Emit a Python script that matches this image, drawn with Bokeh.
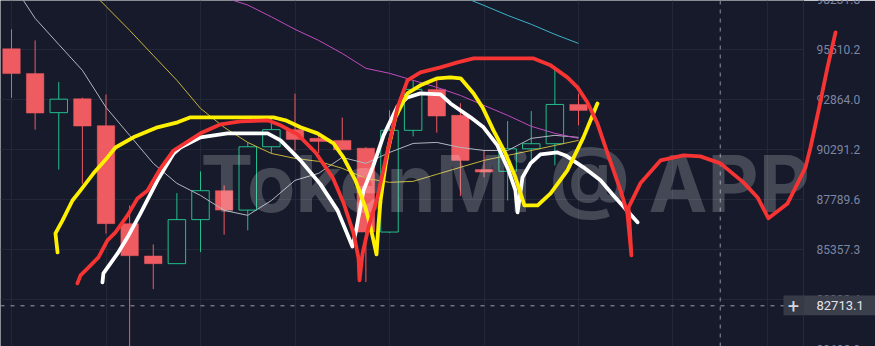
from bokeh.plotting import figure
from bokeh.models import (Range1d, FixedTicker, PrintfTickFormatter, LogAxis, Grid,
                          Span, ColumnDataSource)
from bokeh.core.properties import value
from bokeh.embed import file_html
from bokeh.resources import INLINE

# ---------------- data ----------------
idx = list(range(25))
opens = [95565, 94240, 92195, 92917, 91526, 86622, 85060, 84695, 86817, 88240, 87284, 90445, 91320,
         90873, 90770, 90373, 86213, 91284, 93409, 92056, 89291, 89206, 90342, 90600, 92622]
highs = [96615, 96016, 93796, 92970, 93145, 87512, 85615, 88120, 89206, 88505, 90667, 91886, 93182,
         91181, 91938, 90425, 92313, 93886, 94060, 92689, 90256, 91763, 92277, 94452, 93182]
lows = [92970, 91320, 89291, 88590, 86136, 79800, 83494, 84680, 85244, 86087, 86296, 90091, 90256,
        90131, 90280, 83825, 86165, 90975, 91166, 87970, 88905, 87756, 89591, 89506, 91541]
closes = [94240, 92174, 92896, 91505, 86622, 85074, 84695, 86817, 88240, 87284, 90445, 91320, 90821,
          90718, 90291, 86213, 91284, 93409, 92020, 89756, 89171, 90342, 90600, 92622, 92313]

ma_gray_x = list(range(0, 25))
ma_gray = [99201, 97214, 95799, 94415, 92468, 91027, 89606, 88605, 88005, 87269, 87026, 87755, 88755,
           89105, 89906, 89606, 90156, 90615, 90667, 90410, 90256, 90256, 90872, 91027, 90924]
ma_yellow_x = list(range(3, 25))
ma_yellow = [99201, 97867, 96561, 95209, 93886, 92416, 91439, 90667, 90106, 89856, 89706, 89356,
             88856, 88655, 88705, 89055, 89406, 89756, 90006, 90256, 90512, 90770]
ma_magenta_x = list(range(9, 25))
ma_magenta = [98361, 97943, 97296, 96615, 96016, 95314, 94521, 94256, 93886, 93515, 93092, 92571,
              92056, 91490, 91130, 90872]
ma_cyan_x = list(range(19, 25))
ma_cyan = [98445, 97921, 97377, 96887, 96343, 95853]

# hand-drawn strokes (x in bar index, y in price)
yellow_x = [1.95, 1.86, 2.16, 2.58, 2.92, 3.47, 4.06, 4.40, 5.16, 6.18, 7.03, 7.58, 8.55, 11.09, 11.60,
            12.23, 12.95, 13.63, 14.05, 14.56, 14.98, 15.20, 15.45, 15.53, 15.62, 15.83, 15.96, 16.25,
            16.76, 17.31, 18.03, 18.58, 19.01, 19.56, 19.94, 20.40, 20.91, 21.33, 21.55, 21.71, 22.27,
            22.82, 23.53, 24.21, 24.51, 24.80]
yellow_y = [85230, 86150, 86783, 87756, 88255, 89105, 89906, 90409, 90924, 91439, 91696, 91953, 91953,
            91953, 91799, 91439, 91130, 90615, 89906, 88755, 87415, 86442, 85135, 86540, 87756, 89506,
            90409, 91953, 93198, 93621, 93991, 94044, 93991, 93198, 92468, 91284, 90106, 88905, 88105,
            87512, 87512, 88105, 89256, 90924, 91799, 92674]
white_x = [3.85, 3.89, 4.49, 4.91, 5.46, 6.18, 6.86, 7.15, 8.00, 9.14, 10.84, 11.39, 11.94, 12.23,
           13.08, 13.80, 14.43, 14.56, 14.90, 15.32, 15.75, 16.34, 16.76, 17.31, 18.16, 18.58, 19.43,
           19.98, 20.57, 21.04, 21.33, 21.42, 21.63, 21.97, 22.39, 23.11, 23.45, 24.21, 24.93, 25.48, 26.50]
white_y = [83811, 84236, 85182, 85956, 87123, 88755, 90106, 90409, 90924, 91130, 91130, 90770, 90106,
           89756, 88555, 87269, 85518, 86150, 88255, 89506, 91027, 92519, 92986, 93198, 93145, 92674,
           91953, 91439, 90512, 89256, 88255, 87172, 88905, 89606, 90056, 90156, 90006, 89406, 88755,
           88005, 86685]
red_x = [2.79, 2.92, 3.22, 3.68, 4.06, 4.40, 4.91, 5.33, 5.76, 6.31, 6.86, 8.00, 8.85, 9.69, 10.84,
         11.39, 12.11, 12.87, 13.59, 14.05, 14.48, 14.69, 14.73, 14.86, 15.11, 15.49, 15.92, 16.34,
         16.76, 17.31, 18.16, 18.88, 19.56, 22.10, 22.82, 23.53, 23.96, 24.38, 24.80, 25.23, 25.78,
         26.07, 26.24, 26.12, 26.62, 27.47, 28.44, 29.16, 30.01, 30.98, 31.58, 32.04, 32.85, 33.40,
         33.61, 33.82, 34.16, 34.54, 34.88]
red_y = [83763, 84142, 84473, 84993, 85810, 86199, 87026, 87855, 88255, 89356, 90256, 91130, 91593,
         91747, 91799, 91541, 91078, 90156, 88905, 87658, 86150, 84946, 83905, 85182, 86442, 87905,
         90256, 92468, 93886, 94309, 94574, 94838, 95050, 95050, 94679, 94044, 93515, 92725, 91644,
         90106, 88255, 87123, 85088, 87415, 88605, 89756, 90006, 89956, 89606, 88655, 87905, 86880,
         87610, 88905, 89406, 90409, 92308, 94574, 96452]

tick_prices = [82992.4, 85357.3, 87789.6, 90291.2, 92864.0, 95510.2]
edge_prices = [98231.8, 80692.9]
grid_bars = [0, 4, 8, 12, 16, 20, 24, 28, 32]
cursor_bar = 30
last_price = 82713.1
watermark = "TokenMi @ APP"

# ---------------- style ----------------
BG = "#161a2a"
GRID = "#232838"
UP = "#22bf8d"
DOWN = "#ee5b61"
AXIS_TXT = "#7d86a3"
X0, X1 = -0.466, 33.524          # frame spans 0..803 px
PX = (X1 - X0) / 803.0           # bar units per pixel

def px(x):
    return X0 + x * PX

p = figure(width=875, height=346, x_range=Range1d(X0, X1), y_range=Range1d(80843, 98193),
           y_axis_type="log", x_axis_location=None, y_axis_location=None,
           output_backend="svg", toolbar_location=None,
           min_border_left=0, min_border_top=0, min_border_bottom=0, min_border_right=72)
p.background_fill_color = BG
p.border_fill_color = BG
p.outline_line_color = None
p.grid.visible = False

p.add_layout(Grid(dimension=0, ticker=FixedTicker(ticks=grid_bars), grid_line_color=GRID, grid_line_width=1))
p.add_layout(Grid(dimension=1, ticker=FixedTicker(ticks=tick_prices), grid_line_color=GRID, grid_line_width=1))

yax = LogAxis(ticker=FixedTicker(ticks=tick_prices), formatter=PrintfTickFormatter(format="%.1f"))
yax.axis_line_color = "#262b3b"
yax.major_tick_line_color = None
yax.minor_tick_line_color = None
yax.major_tick_out = 0
yax.major_tick_in = 0
yax.major_label_standoff = 13
yax.major_label_text_color = AXIS_TXT
yax.major_label_text_font = "Roboto"
yax.major_label_text_font_size = "12px"
p.add_layout(yax, "right")

# candles
inc = [c >= o for o, c in zip(opens, closes)]
def pick(flag):
    return dict(x=[i for i, u in zip(idx, inc) if u == flag],
                top=[max(o, c) for o, c, u in zip(opens, closes, inc) if u == flag],
                bottom=[min(o, c) for o, c, u in zip(opens, closes, inc) if u == flag],
                hi=[h for h, u in zip(highs, inc) if u == flag],
                lo=[l for l, u in zip(lows, inc) if u == flag])
src_up = ColumnDataSource(pick(True))
src_dn = ColumnDataSource(pick(False))
p.segment(x0="x", x1="x", y0="lo", y1="hi", source=src_up, line_color=UP, line_width=1)
p.segment(x0="x", x1="x", y0="lo", y1="hi", source=src_dn, line_color=DOWN, line_width=1)
p.vbar(x="x", top="top", bottom="bottom", width=0.74, source=src_up, fill_color=BG, line_color=UP, line_width=1)
p.vbar(x="x", top="top", bottom="bottom", width=0.74, source=src_dn, fill_color=DOWN, line_color=DOWN, line_width=0.5)

# moving averages
p.line(ma_gray_x, ma_gray, line_color="#b3b6c1", line_width=1)
p.line(ma_yellow_x, ma_yellow, line_color="#c7b53a", line_width=1)
p.line(ma_magenta_x, ma_magenta, line_color="#c24bbf", line_width=1)
p.line(ma_cyan_x, ma_cyan, line_color="#3bb4c8", line_width=1)

# crosshair / last price line
p.add_layout(Span(location=cursor_bar, dimension="height", line_color="#8e929e", line_width=1, line_dash="4 5"))
p.add_layout(Span(location=last_price, dimension="width", line_color="#9a9da8", line_width=1, line_dash="4 6"))

# watermark (overlay glyph so it may run past the frame edge)
wm = p.text(x=[px(200)], y=[88630], text=[watermark], text_font=value("Inter"), text_font_style="bold",
            text_font_size=value("79px"), text_color="#ffffff", text_alpha=0.2,
            text_baseline="alphabetic", text_align="left")
wm.level = "overlay"

# hand-drawn strokes
for xs, ys, col in ((white_x, white_y, "#ffffff"), (yellow_x, yellow_y, "#fff000"), (red_x, red_y, "#f73434")):
    r = p.line(xs, ys, line_color=col, line_width=3.8, line_join="round", line_cap="round")
    r.level = "overlay"

# partially visible edge labels of the price scale
el = p.text(x=[px(816)] * len(edge_prices), y=edge_prices, text=["%.1f" % v for v in edge_prices],
            text_font=value("Roboto"), text_font_size=value("12px"), text_color=AXIS_TXT,
            text_baseline="middle", text_align="left")
el.level = "overlay"

# last price tag
q1 = p.quad(left=[px(783)], right=[px(803)], bottom=[82270], top=[83196], fill_color="#363a47", line_color=None)
q2 = p.quad(left=[px(803)], right=[px(876)], bottom=[82270], top=[83196], fill_color="#3b3f4c", line_color=None)
t1 = p.text(x=[px(793)], y=[last_price], text=["+"], text_font=value("Roboto"), text_font_size=value("20px"),
            text_color="#d5d7de", text_baseline="middle", text_align="center")
t2 = p.text(x=[px(816)], y=[last_price], text=["%.1f" % last_price], text_font=value("Roboto"),
            text_font_size=value("13px"), text_color="#e2e4ea", text_baseline="middle", text_align="left")
for r in (q1, q2, t1, t2):
    r.level = "overlay"

open("out.html", "w").write(file_html(p, INLINE))
